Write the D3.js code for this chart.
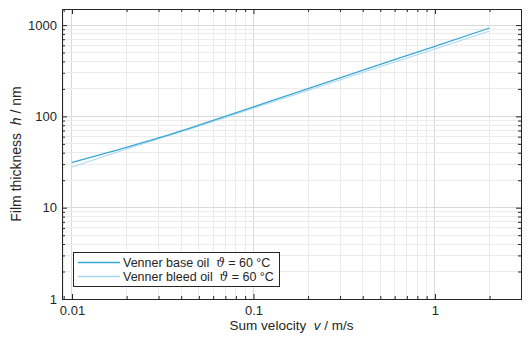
<!DOCTYPE html>
<html>
<head>
<meta charset="utf-8">
<script src="https://cdn.jsdelivr.net/npm/d3@7"></script>
<style>
  html, body { margin: 0; padding: 0; background: #fff; }
  svg { display: block; font-family: "Liberation Sans", Arial, sans-serif; }
  text { white-space: pre; }
</style>
</head>
<body>
<svg id="chart" width="530" height="337"></svg>
<script>
// Sum velocity (m/s)
const velocity = [0.01, 0.02, 0.03, 0.05, 0.1, 0.2, 0.5, 1, 2];
// Film thickness (nm) for each oil at 60 °C
const baseOil  = [31.4, 45.9, 58.1, 80.2, 127, 201, 371, 586, 929];
const bleedOil = [27.9, 43.9, 56.8, 78.0, 122.7, 192.3, 350, 547, 861];

const seriesNames = ["Venner base oil", "Venner bleed oil"];
const seriesColors = ["#3aa6d5", "#a8d8ef"];
const seriesWidths = [1.3, 1.0];

const xTickValues = [0.01, 0.1, 1];
const xTickLabels = ["0.01", "0.1", "1"];
const yTickValues = [1, 10, 100, 1000];
const yTickLabels = ["1", "10", "100", "1000"];

const W = 530, H = 337;
const m = { left: 62, right: 9, top: 9, bottom: 38 };
const pw = W - m.left - m.right, ph = H - m.top - m.bottom;

const svg = d3.select("#chart");
const g = svg.append("g").attr("transform", `translate(${m.left},${m.top})`);

const xDomain = [0.00881, 2.98], yDomain = [1, 1500];
const x = d3.scaleLog().domain(xDomain).range([0, pw]);
const y = d3.scaleLog().domain(yDomain).range([ph, 0]);

// all 1..9 multiples of each decade inside a range
function decadeSteps(lo, hi) {
  const out = [];
  for (let e = Math.floor(Math.log10(lo)); e <= Math.ceil(Math.log10(hi)); e++) {
    for (let k = 1; k <= 9; k++) {
      const v = k * Math.pow(10, e);
      if (v >= lo && v <= hi) out.push(v);
    }
  }
  return out;
}
const xAll = decadeSteps(...xDomain);
const yAll = decadeSteps(...yDomain);
const isMajor = v => Math.abs(Math.log10(v) - Math.round(Math.log10(v))) < 1e-9;
const xMinorVals = xAll.filter(v => !isMajor(v));
const yMinorVals = yAll.filter(v => !isMajor(v));

// grid
const grid = g.append("g").attr("shape-rendering", "crispEdges");
xAll.forEach(v => {
  grid.append("line")
    .attr("x1", x(v)).attr("x2", x(v)).attr("y1", 0).attr("y2", ph)
    .attr("stroke", isMajor(v) ? "#d9d9d9" : "#ebebeb");
});
yAll.forEach(v => {
  grid.append("line")
    .attr("x1", 0).attr("x2", pw).attr("y1", y(v)).attr("y2", y(v))
    .attr("stroke", isMajor(v) ? "#d9d9d9" : "#ebebeb");
});

// series lines (bleed oil first so base oil sits on top)
const line = d3.line().x(d => x(d[0])).y(d => y(d[1])).curve(d3.curveMonotoneX);
const seriesData = [baseOil, bleedOil];
[1, 0].forEach(i => {
  g.append("path")
    .datum(velocity.map((v, j) => [v, seriesData[i][j]]))
    .attr("fill", "none")
    .attr("stroke", seriesColors[i])
    .attr("stroke-width", seriesWidths[i])
    .attr("d", line);
});

// axes with inward ticks on all four sides
const ink = "#262626";
function styleAxis(sel) {
  sel.select(".domain").remove();
  sel.selectAll("line").attr("stroke", ink);
  sel.selectAll("text").attr("fill", ink).attr("font-size", 13);
}
g.append("g").attr("transform", `translate(0,${ph})`)
  .call(d3.axisBottom(x).tickValues(xTickValues).tickFormat((d, i) => xTickLabels[i])
    .tickSizeInner(-5).tickSizeOuter(0).tickPadding(7))
  .call(styleAxis);
g.append("g").attr("transform", `translate(0,${ph})`)
  .call(d3.axisBottom(x).tickValues(xMinorVals).tickFormat("").tickSizeInner(-3).tickSizeOuter(0))
  .call(styleAxis);
g.append("g")
  .call(d3.axisTop(x).tickValues(xTickValues).tickFormat("").tickSizeInner(-5).tickSizeOuter(0))
  .call(styleAxis);
g.append("g")
  .call(d3.axisTop(x).tickValues(xMinorVals).tickFormat("").tickSizeInner(-3).tickSizeOuter(0))
  .call(styleAxis);

g.append("g")
  .call(d3.axisLeft(y).tickValues(yTickValues).tickFormat((d, i) => yTickLabels[i])
    .tickSizeInner(-5).tickSizeOuter(0).tickPadding(5))
  .call(styleAxis);
g.append("g")
  .call(d3.axisLeft(y).tickValues(yMinorVals).tickFormat("").tickSizeInner(-3).tickSizeOuter(0))
  .call(styleAxis);
g.append("g").attr("transform", `translate(${pw},0)`)
  .call(d3.axisRight(y).tickValues(yTickValues).tickFormat("").tickSizeInner(-5).tickSizeOuter(0))
  .call(styleAxis);
g.append("g").attr("transform", `translate(${pw},0)`)
  .call(d3.axisRight(y).tickValues(yMinorVals).tickFormat("").tickSizeInner(-3).tickSizeOuter(0))
  .call(styleAxis);

// frame
g.append("rect").attr("x", 0.5).attr("y", 0.5).attr("width", pw).attr("height", ph)
  .attr("fill", "none").attr("stroke", ink).attr("stroke-width", 1);

// axis titles
const xt = svg.append("text").attr("x", m.left + pw / 2).attr("y", 329.5)
  .attr("text-anchor", "middle").attr("font-size", 13.5).attr("fill", ink);
xt.append("tspan").text("Sum velocity  ");
xt.append("tspan").attr("font-style", "italic").text("v");
xt.append("tspan").text(" / m/s");

const yt = svg.append("text").attr("transform", `translate(21,${m.top + ph / 2}) rotate(-90)`)
  .attr("text-anchor", "middle").attr("font-size", 14).attr("fill", ink);
yt.append("tspan").text("Film thickness  ");
yt.append("tspan").attr("font-style", "italic").text("h");
yt.append("tspan").text(" / nm");

// legend
const lg = svg.append("g").attr("transform", "translate(73,252)");
lg.append("rect").attr("x", 0.5).attr("y", 0.5).attr("width", 206).attr("height", 34)
  .attr("fill", "#fff").attr("stroke", ink).attr("stroke-width", 1);
seriesNames.forEach((name, i) => {
  const yy = 10.5 + i * 14;
  lg.append("line").attr("x1", 5).attr("x2", 47).attr("y1", yy).attr("y2", yy)
    .attr("stroke", seriesColors[i]).attr("stroke-width", seriesWidths[i] + 0.3);
  const t = lg.append("text").attr("x", 50).attr("y", yy + 4.5)
    .attr("font-size", 12.5).attr("fill", ink);
  t.append("tspan").text(name + "  ");
  t.append("tspan").attr("font-style", "italic").attr("font-family", "DejaVu Serif, serif")
    .attr("font-size", 12).text("\u03D1");
  t.append("tspan").text(" = 60 °C");
});
</script>
</body>
</html>
